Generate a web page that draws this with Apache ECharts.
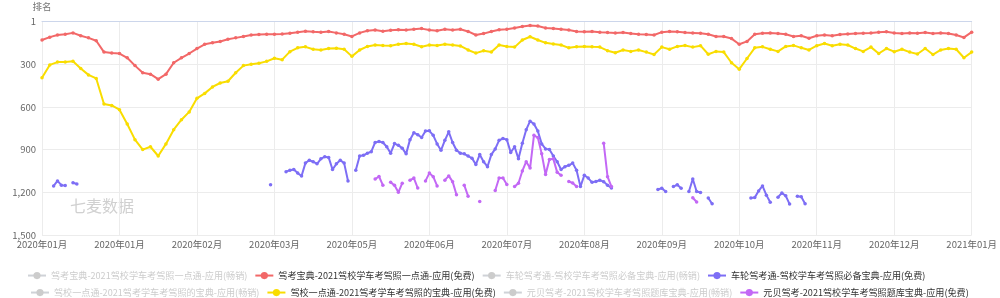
<!DOCTYPE html>
<html><head><meta charset="utf-8">
<script src="https://cdn.jsdelivr.net/npm/echarts@6/dist/echarts.min.js"></script>
<style>html,body{margin:0;padding:0;background:#fff}#c{width:1000px;height:298px}</style>
</head><body><div id="c"></div>
<script>
const _ = null;
const tickLabels = ['2020年01月','2020年01月','2020年02月','2020年03月','2020年05月','2020年06月','2020年07月','2020年08月','2020年09月','2020年10月','2020年11月','2020年12月','2021年01月'];
const seriesNames = [
  '驾考宝典-2021驾校学车考驾照一点通-应用(畅销)',
  '驾考宝典-2021驾校学车考驾照一点通-应用(免费)',
  '车轮驾考通-驾校学车考驾照必备宝典-应用(畅销)',
  '车轮驾考通-驾校学车考驾照必备宝典-应用(免费)',
  '驾校一点通-2021驾考学车考驾照的宝典-应用(畅销)',
  '驾校一点通-2021驾考学车考驾照的宝典-应用(免费)',
  '元贝驾考-2021驾校学车考驾照题库宝典-应用(畅销)',
  '元贝驾考-2021驾校学车考驾照题库宝典-应用(免费)'
];
// 驾考宝典 (免费) — one value every 2 categories
const jiakaoFree = [
  130,110,95,90,80,100,115,135,215,222,225,
  255,310,360,370,405,370,290,255,225,190,
  160,150,140,125,115,105,95,92,90,90,
  88,82,75,68,72,75,70,80,90,105,
  80,65,60,68,62,58,60,55,50,60,
  65,55,60,55,70,95,85,70,58,55,
  45,35,28,32,45,50,55,60,70,72,
  70,75,78,80,78,85,90,92,95,75,
  70,72,78,80,82,90,105,105,120,160,
  140,90,82,80,85,90,105,100,118,100,
  95,100,92,88,85,82,80,75,72,80,
  85,80,82,78,85,80,85,95,112,75
];
// 驾校一点通 (免费) — one value every 2 categories
const yidiantongFree = [
  395,305,285,285,280,330,375,400,580,590,620,
  720,830,900,880,945,860,760,690,635,540,
  505,460,432,420,360,310,300,293,280,258,
  268,212,185,178,195,200,190,188,195,245,
  200,175,165,168,170,160,155,160,177,165,
  168,160,165,172,200,222,205,215,165,175,
  180,130,107,130,150,158,165,185,178,175,
  178,180,205,220,200,210,200,215,232,180,
  195,175,168,180,170,230,210,215,290,335,
  260,185,178,195,210,175,168,185,200,170,
  155,170,160,165,190,210,180,225,190,212,
  195,215,228,190,232,200,190,195,255,215
];
// 车轮驾考通 (免费) — one value per category
const cheluFree = [
  _,_,_,1155,1120,1150,1152,_,1133,1142,_,_,_,_,_,_,_,_,_,_,
  _,_,_,_,_,_,_,_,_,_,_,_,_,_,_,_,_,_,_,_,
  _,_,_,_,_,_,_,_,_,_,_,_,_,_,_,_,_,_,_,1147,
  _,_,_,1055,1045,1040,1065,1085,995,975,985,1000,965,950,955,1040,1000,975,995,1120,
  _,1045,945,940,925,915,850,843,850,880,925,858,870,890,930,830,782,795,815,770,
  768,800,860,905,835,775,850,905,925,930,945,960,1005,935,985,1020,935,895,835,822,
  830,920,880,965,855,760,700,720,770,860,895,900,945,985,1040,1020,1010,995,1045,1160,
  1080,1100,1130,1124,1115,1125,1150,1170,_,_,_,_,_,_,_,_,_,_,_,1180,
  1172,1194,_,1160,1147,1172,_,1194,1107,1194,1201,_,1240,1281,_,_,_,_,_,_,
  _,_,_,1240,1236,1190,1155,1220,1270,_,1234,1205,1225,1283,_,1228,1232,1280,_,_,
  _,_,_,_,_,_,_,_,_,_,_,_,_,_,_,_,_,_,_,_,
  _,_,_,_,_,_,_,_,_,_,_,_,_,_,_,_,_,_,_,_,
  _
];
// 元贝驾考 (免费) — one value per category
const yuanbeiFree = [
  _,_,_,_,_,_,_,_,_,_,_,_,_,_,_,_,_,_,_,_,
  _,_,_,_,_,_,_,_,_,_,_,_,_,_,_,_,_,_,_,_,
  _,_,_,_,_,_,_,_,_,_,_,_,_,_,_,_,_,_,_,_,
  _,_,_,_,_,_,_,_,_,_,_,_,_,_,_,_,_,_,_,_,
  _,_,_,_,_,_,1107,1089,1150,_,1130,1150,1200,1136,_,1115,1100,1170,_,1120,
  1065,1090,1155,_,1115,1085,1125,1217,_,1150,1227,_,_,1264,_,_,_,1187,1100,1100,
  1145,_,1160,1136,1050,985,1030,800,815,930,1075,970,965,1060,1080,_,1124,1135,1160,_,
  _,_,_,_,_,855,1090,1160,_,_,_,_,_,_,_,_,_,_,_,_,
  _,_,_,_,_,_,_,_,1238,1268,_,_,_,_,_,_,_,_,_,_,
  _,_,_,_,_,_,_,_,_,_,_,_,_,_,_,_,_,_,_,_,
  _,_,_,_,_,_,_,_,_,_,_,_,_,_,_,_,_,_,_,_,
  _,_,_,_,_,_,_,_,_,_,_,_,_,_,_,_,_,_,_,_,
  _
];
const yTicks = {min: 0, max: 1500, step: 300};

const STEP = 20;
const categories = [];
for (let j = 0; j <= (tickLabels.length - 1) * STEP; j++) categories.push(String(j));
const everyOther = arr => arr.map((v, k) => [2 * k, v]);

const colors = ['#bbb', '#f26868', '#bbb', '#7d6ef5', '#bbb', '#f9dd00', '#bbb', '#c368f5'];
const dataSets = [[], everyOther(jiakaoFree), [], cheluFree, [], everyOther(yidiantongFree), [], yuanbeiFree];
const selected = {};
seriesNames.forEach((n, i) => selected[n] = (i % 2 === 1));

const series = seriesNames.map((n, i) => ({
  name: n, type: 'line', data: dataSets[i],
  symbol: 'circle', symbolSize: 3.5, showSymbol: true, showAllSymbol: true,
  connectNulls: false, color: colors[i],
  lineStyle: {width: 2, color: colors[i]},
  itemStyle: {color: colors[i]},
  emphasis: {disabled: true}, animation: false
}));

const legendBase = {
  orient: 'horizontal', itemWidth: 18, itemHeight: 9, itemGap: 7,
  inactiveColor: '#ccc', selected: selected,
  textStyle: {fontSize: 9.1, color: '#333', fontFamily: 'Noto Sans CJK SC'}
};

const chart = echarts.init(document.getElementById('c'), null, {renderer: 'canvas'});
chart.setOption({
  animation: false,
  grid: {left: 42, right: 23, top: 21.5, bottom: 63, containLabel: false},
  legend: [
    Object.assign({}, legendBase, {left: 22, top: 266, data: seriesNames.slice(0, 4)}),
    Object.assign({}, legendBase, {left: 25, top: 283, data: seriesNames.slice(4, 8)})
  ],
  graphic: [{
    type: 'text', left: 70, top: 198, silent: true,
    style: {text: '七麦数据', fontSize: 16, fill: '#d0d0d0', fontFamily: 'Noto Sans CJK SC'}
  }],
  xAxis: {
    type: 'category', data: categories, boundaryGap: false,
    axisLine: {lineStyle: {color: '#ccd6eb'}},
    axisTick: {show: false, interval: STEP - 1},
    axisLabel: {
      interval: STEP - 1, margin: 5, color: '#666', fontSize: 9.5, fontFamily: 'Noto Sans CJK SC',
      formatter: (v, idx) => tickLabels[Math.round(Number(v) / STEP)]
    },
    splitLine: {show: true, interval: STEP - 1, lineStyle: {color: '#ececec'}}
  },
  yAxis: {
    type: 'value', inverse: true, min: yTicks.min, max: yTicks.max, interval: yTicks.step,
    name: '排名', nameLocation: 'start', nameGap: 10,
    nameTextStyle: {color: '#777', fontSize: 9.5, fontFamily: 'Noto Sans CJK SC'},
    axisLine: {show: false}, axisTick: {show: false},
    axisLabel: {
      color: '#666', fontSize: 9.5, margin: 6, fontFamily: 'Noto Sans CJK SC',
      formatter: v => v === 0 ? '1' : echarts.format.addCommas(v)
    },
    splitLine: {lineStyle: {color: '#ececec'}}
  },
  series: series
});
</script></body></html>
